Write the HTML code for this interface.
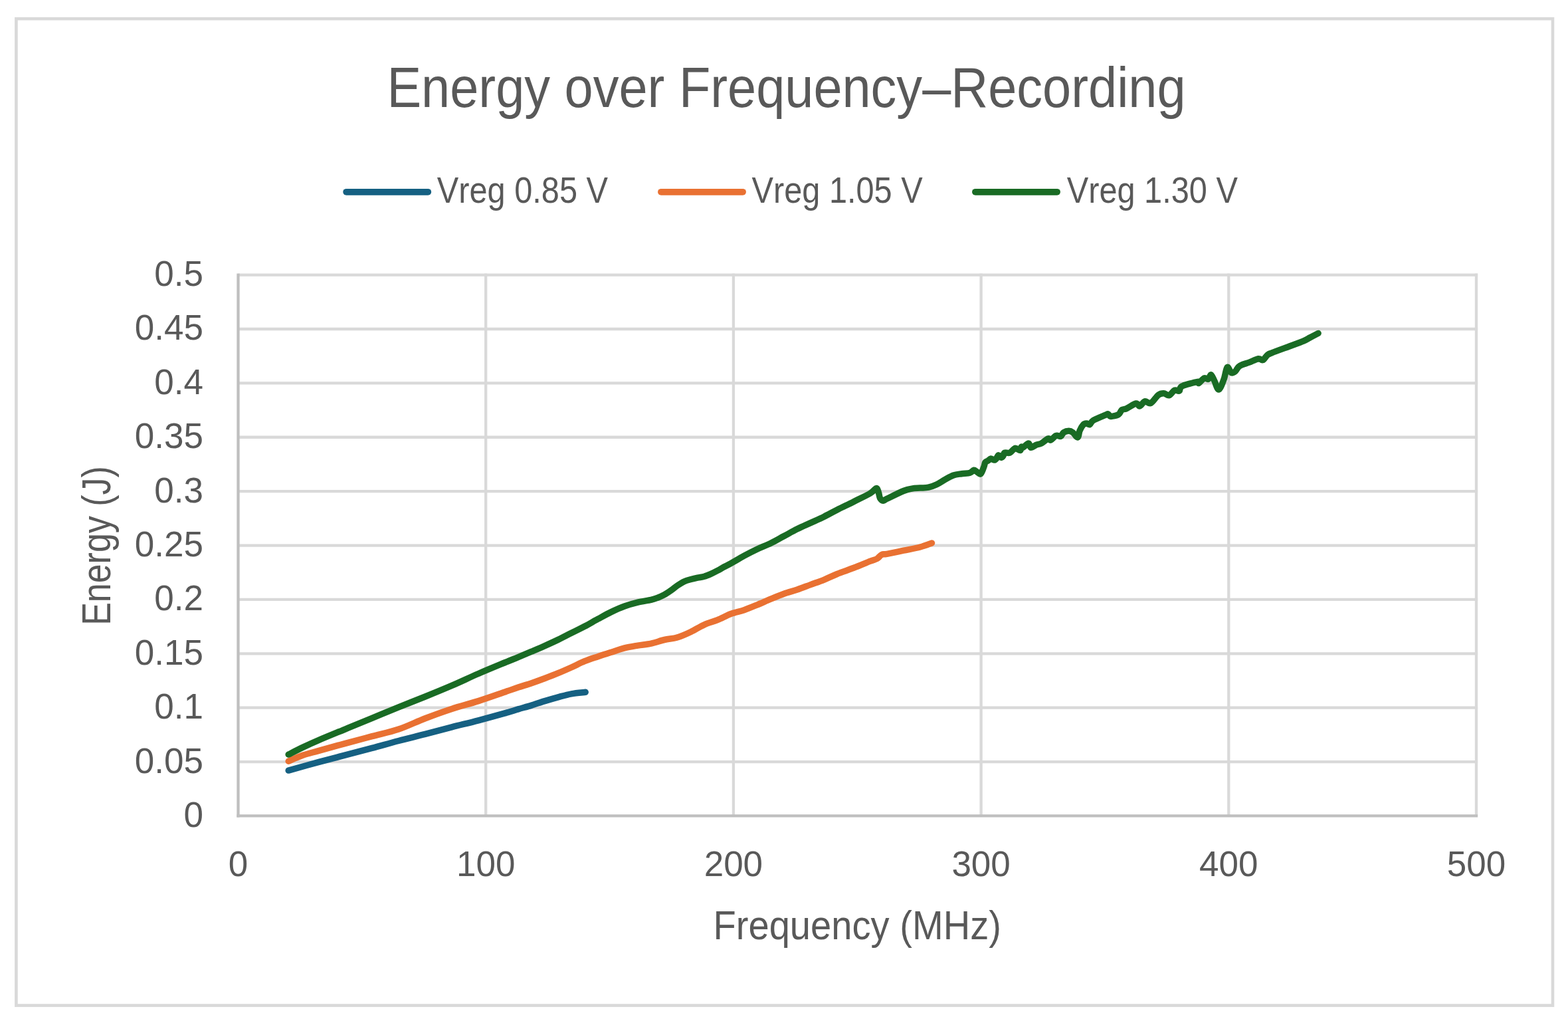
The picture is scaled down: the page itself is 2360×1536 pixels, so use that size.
<!DOCTYPE html>
<html><head><meta charset="utf-8"><title>Energy over Frequency–Recording</title>
<style>
html,body{margin:0;padding:0;background:#ffffff;overflow:hidden;}
body{width:2360px;height:1536px;overflow:hidden;}
svg{display:block;}
text{font-family:'Liberation Sans', Arial, sans-serif;fill:#595959;font-kerning:none;}
</style></head><body>
<svg width="2360" height="1536" viewBox="0 0 2360 1536">
<rect x="0" y="0" width="2360" height="1536" fill="#ffffff"/>
<rect x="24.4" y="28.2" width="2312.6" height="1484.4" fill="#ffffff" stroke="#d9d9d9" stroke-width="4.6"/>
<text x="0" y="0" font-size="86.00" text-anchor="start" transform="translate(582.39,160.60) scale(0.9016,1)">Energy over Frequency–Recording</text>
<g stroke-linecap="round" stroke-width="9.9">
<line x1="521.2" y1="288.85" x2="644.2" y2="288.85" stroke="#156082"/>
<line x1="995" y1="288.85" x2="1118" y2="288.85" stroke="#e97132"/>
<line x1="1468" y1="288.85" x2="1591" y2="288.85" stroke="#196b24"/>
</g>
<text x="0" y="0" font-size="55.40" text-anchor="start" transform="translate(657.80,305.00) scale(0.8793,1)">Vreg 0.85 V</text>
<text x="0" y="0" font-size="55.40" text-anchor="start" transform="translate(1131.50,305.00) scale(0.8793,1)">Vreg 1.05 V</text>
<text x="0" y="0" font-size="55.40" text-anchor="start" transform="translate(1605.70,305.00) scale(0.8793,1)">Vreg 1.30 V</text>
<g stroke="#d9d9d9" stroke-width="4.3" fill="none">
<line x1="358.50" y1="1146.07" x2="2224.15" y2="1146.07" />
<line x1="358.50" y1="1064.68" x2="2224.15" y2="1064.68" />
<line x1="358.50" y1="983.30" x2="2224.15" y2="983.30" />
<line x1="358.50" y1="901.91" x2="2224.15" y2="901.91" />
<line x1="358.50" y1="820.53" x2="2224.15" y2="820.53" />
<line x1="358.50" y1="739.14" x2="2224.15" y2="739.14" />
<line x1="358.50" y1="657.75" x2="2224.15" y2="657.75" />
<line x1="358.50" y1="576.37" x2="2224.15" y2="576.37" />
<line x1="358.50" y1="494.99" x2="2224.15" y2="494.99" />
<line x1="358.50" y1="413.60" x2="2224.15" y2="413.60" />
<line x1="731.20" y1="411.45" x2="731.20" y2="1227.45" />
<line x1="1103.90" y1="411.45" x2="1103.90" y2="1227.45" />
<line x1="1476.60" y1="411.45" x2="1476.60" y2="1227.45" />
<line x1="1849.30" y1="411.45" x2="1849.30" y2="1227.45" />
<line x1="2222.00" y1="411.45" x2="2222.00" y2="1227.45" />
</g>
<g stroke="#bfbfbf" stroke-width="4.3" fill="none">
<line x1="358.50" y1="411.45" x2="358.50" y2="1229.60"/>
<line x1="356.35" y1="1227.45" x2="2224.15" y2="1227.45"/>
</g>
<text x="306.00" y="1243.95" font-size="53.00" text-anchor="end">0</text><text x="306.00" y="1162.57" font-size="53.00" text-anchor="end">0.05</text><text x="306.00" y="1081.18" font-size="53.00" text-anchor="end">0.1</text><text x="306.00" y="999.80" font-size="53.00" text-anchor="end">0.15</text><text x="306.00" y="918.41" font-size="53.00" text-anchor="end">0.2</text><text x="306.00" y="837.03" font-size="53.00" text-anchor="end">0.25</text><text x="306.00" y="755.64" font-size="53.00" text-anchor="end">0.3</text><text x="306.00" y="674.25" font-size="53.00" text-anchor="end">0.35</text><text x="306.00" y="592.87" font-size="53.00" text-anchor="end">0.4</text><text x="306.00" y="511.49" font-size="53.00" text-anchor="end">0.45</text><text x="306.00" y="430.10" font-size="53.00" text-anchor="end">0.5</text>
<text x="358.50" y="1317.80" font-size="53.00" text-anchor="middle">0</text><text x="731.20" y="1317.80" font-size="53.00" text-anchor="middle">100</text><text x="1103.90" y="1317.80" font-size="53.00" text-anchor="middle">200</text><text x="1476.60" y="1317.80" font-size="53.00" text-anchor="middle">300</text><text x="1849.30" y="1317.80" font-size="53.00" text-anchor="middle">400</text><text x="2222.00" y="1317.80" font-size="53.00" text-anchor="middle">500</text>
<text x="0" y="0" font-size="61.60" text-anchor="start" transform="translate(1073.45,1413.40) scale(0.9113,1)">Frequency (MHz)</text>
<g transform="translate(165.60,940.82) rotate(-90)"><text x="0" y="0" font-size="61.60" text-anchor="start" transform="translate(0.00,0.00) scale(0.8435,1)">Energy (J)</text></g>
<g fill="none" stroke-width="9.5" stroke-linecap="round" stroke-linejoin="round">
<path stroke="#156082" d="M434.20,1159.10 C441.83,1156.98 465.70,1150.27 480.00,1146.40 C494.30,1142.53 506.67,1139.40 520.00,1135.90 C533.33,1132.40 546.67,1128.97 560.00,1125.40 C573.33,1121.83 586.67,1118.00 600.00,1114.50 C613.33,1111.00 626.67,1107.83 640.00,1104.40 C653.33,1100.97 666.67,1097.33 680.00,1093.90 C693.33,1090.47 706.67,1087.30 720.00,1083.80 C733.33,1080.30 750.00,1075.72 760.00,1072.90 C770.00,1070.08 773.33,1068.87 780.00,1066.90 C786.67,1064.93 793.33,1063.15 800.00,1061.10 C806.67,1059.05 813.33,1056.65 820.00,1054.60 C826.67,1052.55 833.33,1050.60 840.00,1048.80 C846.67,1047.00 853.13,1045.05 860.00,1043.80 C866.87,1042.55 877.67,1041.72 881.20,1041.30"/>
<path stroke="#e97132" d="M434.20,1145.20 C437.77,1143.72 447.97,1138.93 455.60,1136.30 C463.23,1133.67 469.27,1132.40 480.00,1129.40 C490.73,1126.40 506.67,1121.92 520.00,1118.30 C533.33,1114.68 546.67,1111.23 560.00,1107.70 C573.33,1104.17 586.67,1101.60 600.00,1097.10 C613.33,1092.60 626.67,1085.82 640.00,1080.70 C653.33,1075.58 666.67,1070.75 680.00,1066.40 C693.33,1062.05 706.67,1058.83 720.00,1054.60 C733.33,1050.37 750.00,1044.42 760.00,1041.00 C770.00,1037.58 773.33,1036.32 780.00,1034.10 C786.67,1031.88 793.33,1029.97 800.00,1027.70 C806.67,1025.43 813.33,1023.00 820.00,1020.50 C826.67,1018.00 833.33,1015.45 840.00,1012.70 C846.67,1009.95 853.33,1007.00 860.00,1004.00 C866.67,1001.00 873.33,997.42 880.00,994.70 C886.67,991.98 893.33,989.95 900.00,987.70 C906.67,985.45 913.33,983.33 920.00,981.20 C926.67,979.07 933.33,976.58 940.00,974.90 C946.67,973.22 953.33,972.23 960.00,971.10 C966.67,969.97 973.33,969.53 980.00,968.10 C986.67,966.67 993.33,964.05 1000.00,962.50 C1006.67,960.95 1013.33,960.80 1020.00,958.80 C1026.67,956.80 1033.33,953.67 1040.00,950.50 C1046.67,947.33 1053.33,942.78 1060.00,939.80 C1066.67,936.82 1073.33,935.32 1080.00,932.60 C1086.67,929.88 1093.33,925.98 1100.00,923.50 C1106.67,921.02 1113.33,919.98 1120.00,917.70 C1126.67,915.42 1133.33,912.55 1140.00,909.80 C1146.67,907.05 1153.33,903.97 1160.00,901.20 C1166.67,898.43 1173.33,895.57 1180.00,893.20 C1186.67,890.83 1193.33,889.27 1200.00,887.00 C1206.67,884.73 1213.33,882.05 1220.00,879.60 C1226.67,877.15 1233.33,874.98 1240.00,872.30 C1246.67,869.62 1252.50,866.50 1260.00,863.50 C1267.50,860.50 1276.67,857.52 1285.00,854.30 C1293.33,851.08 1304.17,846.50 1310.00,844.20 C1315.83,841.90 1317.17,842.12 1320.00,840.50 C1322.83,838.88 1324.50,835.70 1327.00,834.50 C1329.50,833.30 1329.50,834.35 1335.00,833.30 C1340.50,832.25 1351.67,829.92 1360.00,828.20 C1368.33,826.48 1377.92,824.87 1385.00,823.00 C1392.08,821.13 1399.58,818.00 1402.50,817.00"/>
<path stroke="#196b24" d="M434.20,1135.10 C437.77,1133.32 447.97,1128.02 455.60,1124.40 C463.23,1120.78 469.27,1118.00 480.00,1113.40 C490.73,1108.80 506.67,1102.32 520.00,1096.80 C533.33,1091.28 546.67,1085.78 560.00,1080.30 C573.33,1074.82 586.67,1069.28 600.00,1063.90 C613.33,1058.52 626.67,1053.42 640.00,1048.00 C653.33,1042.58 666.67,1037.15 680.00,1031.40 C693.33,1025.65 706.67,1019.27 720.00,1013.50 C733.33,1007.73 750.00,1000.90 760.00,996.75 C770.00,992.60 773.33,991.36 780.00,988.60 C786.67,985.84 793.33,983.03 800.00,980.20 C806.67,977.37 813.33,974.57 820.00,971.60 C826.67,968.63 833.33,965.62 840.00,962.40 C846.67,959.18 853.33,955.65 860.00,952.30 C866.67,948.95 873.33,945.82 880.00,942.30 C886.67,938.78 893.33,934.82 900.00,931.20 C906.67,927.58 913.33,923.80 920.00,920.60 C926.67,917.40 933.33,914.42 940.00,912.00 C946.67,909.58 953.33,907.72 960.00,906.10 C966.67,904.48 975.00,903.45 980.00,902.30 C985.00,901.15 986.67,900.47 990.00,899.20 C993.33,897.93 996.67,896.55 1000.00,894.70 C1003.33,892.85 1006.67,890.45 1010.00,888.10 C1013.33,885.75 1016.67,882.83 1020.00,880.60 C1023.33,878.37 1026.67,876.22 1030.00,874.70 C1033.33,873.18 1036.67,872.43 1040.00,871.50 C1043.33,870.57 1046.67,869.80 1050.00,869.10 C1053.33,868.40 1056.67,868.25 1060.00,867.30 C1063.33,866.35 1066.67,864.88 1070.00,863.40 C1073.33,861.92 1076.67,860.17 1080.00,858.40 C1083.33,856.63 1086.67,854.58 1090.00,852.80 C1093.33,851.02 1095.00,850.47 1100.00,847.70 C1105.00,844.93 1113.33,839.82 1120.00,836.20 C1126.67,832.58 1133.33,829.15 1140.00,826.00 C1146.67,822.85 1153.33,820.55 1160.00,817.30 C1166.67,814.05 1173.33,810.08 1180.00,806.50 C1186.67,802.92 1193.33,799.12 1200.00,795.80 C1206.67,792.48 1213.33,789.67 1220.00,786.60 C1226.67,783.53 1233.33,780.67 1240.00,777.40 C1246.67,774.13 1252.50,770.78 1260.00,767.00 C1267.50,763.22 1276.67,758.87 1285.00,754.70 C1293.33,750.53 1304.32,745.35 1310.00,742.00 C1315.68,738.65 1317.02,734.68 1319.10,734.60 C1321.18,734.52 1321.60,739.05 1322.50,741.50 C1323.40,743.95 1323.37,747.35 1324.50,749.30 C1325.63,751.25 1327.55,753.03 1329.30,753.20 C1331.05,753.37 1329.88,752.75 1335.00,750.30 C1340.12,747.85 1353.75,741.03 1360.00,738.50 C1366.25,735.97 1368.33,735.83 1372.50,735.10 C1376.67,734.37 1380.83,734.42 1385.00,734.10 C1389.17,733.78 1393.33,734.08 1397.50,733.20 C1401.67,732.32 1405.83,730.77 1410.00,728.80 C1414.17,726.83 1418.33,723.72 1422.50,721.40 C1426.67,719.08 1430.83,716.35 1435.00,714.90 C1439.17,713.45 1443.33,713.30 1447.50,712.70 C1451.67,712.10 1456.97,712.22 1460.00,711.30 C1463.03,710.38 1463.97,707.45 1465.70,707.20 C1467.43,706.95 1468.67,708.85 1470.40,709.80 C1472.13,710.75 1474.37,714.12 1476.10,712.90 C1477.83,711.68 1479.67,705.37 1480.80,702.50 C1481.93,699.63 1481.85,697.27 1482.90,695.70 C1483.95,694.13 1485.70,694.05 1487.10,693.10 C1488.50,692.15 1489.73,690.17 1491.30,690.00 C1492.87,689.83 1495.12,692.10 1496.50,692.10 C1497.88,692.10 1498.57,691.22 1499.60,690.00 C1500.63,688.78 1501.48,685.07 1502.70,684.80 C1503.92,684.53 1505.68,688.23 1506.90,688.40 C1508.12,688.57 1509.13,687.02 1510.00,685.80 C1510.87,684.58 1510.45,681.88 1512.10,681.10 C1513.75,680.32 1517.30,682.22 1519.90,681.10 C1522.50,679.98 1525.10,675.00 1527.70,674.40 C1530.30,673.80 1533.93,677.85 1535.50,677.50 C1537.07,677.15 1536.40,673.00 1537.10,672.30 C1537.80,671.60 1537.88,674.17 1539.70,673.30 C1541.52,672.43 1546.00,667.10 1548.00,667.10 C1550.00,667.10 1549.70,672.95 1551.70,673.30 C1553.70,673.65 1557.43,670.23 1560.00,669.20 C1562.57,668.17 1564.22,668.63 1567.10,667.10 C1569.98,665.57 1574.92,660.85 1577.30,660.00 C1579.68,659.15 1579.37,662.77 1581.40,662.00 C1583.43,661.23 1586.97,656.33 1589.50,655.40 C1592.03,654.47 1594.73,657.17 1596.60,656.40 C1598.47,655.63 1598.67,652.15 1600.70,650.80 C1602.73,649.45 1606.43,648.30 1608.80,648.30 C1611.17,648.30 1612.70,649.18 1614.90,650.80 C1617.10,652.42 1620.30,658.50 1622.00,658.00 C1623.70,657.50 1623.73,650.93 1625.10,647.80 C1626.47,644.67 1628.50,640.98 1630.20,639.20 C1631.90,637.42 1633.62,637.20 1635.30,637.10 C1636.98,637.00 1638.62,639.37 1640.30,638.60 C1641.98,637.83 1641.50,634.87 1645.40,632.50 C1649.30,630.13 1659.97,626.00 1663.70,624.40 C1667.43,622.80 1666.43,622.57 1667.80,622.90 C1669.17,623.23 1669.30,626.27 1671.90,626.40 C1674.50,626.53 1680.63,625.33 1683.40,623.70 C1686.17,622.07 1686.47,618.12 1688.50,616.60 C1690.53,615.08 1692.05,616.20 1695.60,614.60 C1699.15,613.00 1706.50,607.60 1709.80,607.00 C1713.10,606.40 1713.18,611.52 1715.40,611.00 C1717.62,610.48 1720.30,604.67 1723.10,603.90 C1725.90,603.13 1728.82,608.02 1732.20,606.40 C1735.58,604.78 1740.18,596.65 1743.40,594.20 C1746.62,591.75 1748.78,591.62 1751.50,591.70 C1754.22,591.78 1756.98,595.47 1759.70,594.70 C1762.42,593.93 1765.27,588.20 1767.80,587.10 C1770.33,586.00 1773.03,589.12 1774.90,588.10 C1776.77,587.08 1774.42,583.28 1779.00,581.00 C1783.58,578.72 1798.17,575.17 1802.40,574.40 C1806.63,573.63 1802.72,577.33 1804.40,576.40 C1806.08,575.47 1810.13,569.82 1812.50,568.80 C1814.87,567.78 1816.90,571.15 1818.60,570.30 C1820.30,569.45 1821.17,563.27 1822.70,563.70 C1824.23,564.13 1825.85,569.17 1827.80,572.90 C1829.75,576.63 1832.03,586.45 1834.40,586.10 C1836.77,585.75 1839.88,576.40 1842.00,570.80 C1844.12,565.20 1845.23,554.18 1847.10,552.50 C1848.97,550.82 1851.17,559.68 1853.20,560.70 C1855.23,561.72 1857.48,560.07 1859.30,558.60 C1861.12,557.13 1862.28,553.58 1864.10,551.90 C1865.92,550.22 1867.50,549.63 1870.20,548.50 C1872.90,547.37 1876.35,546.57 1880.30,545.10 C1884.25,543.63 1890.50,540.27 1893.90,539.70 C1897.30,539.13 1898.43,542.62 1900.70,541.70 C1902.97,540.78 1905.25,536.02 1907.50,534.20 C1909.75,532.38 1908.55,533.05 1914.20,530.80 C1919.85,528.55 1933.48,523.63 1941.40,520.70 C1949.32,517.77 1956.62,515.35 1961.70,513.20 C1966.78,511.05 1968.17,509.77 1971.90,507.80 C1975.63,505.83 1982.07,502.47 1984.10,501.40"/>
</g>
</svg>
</body></html>
